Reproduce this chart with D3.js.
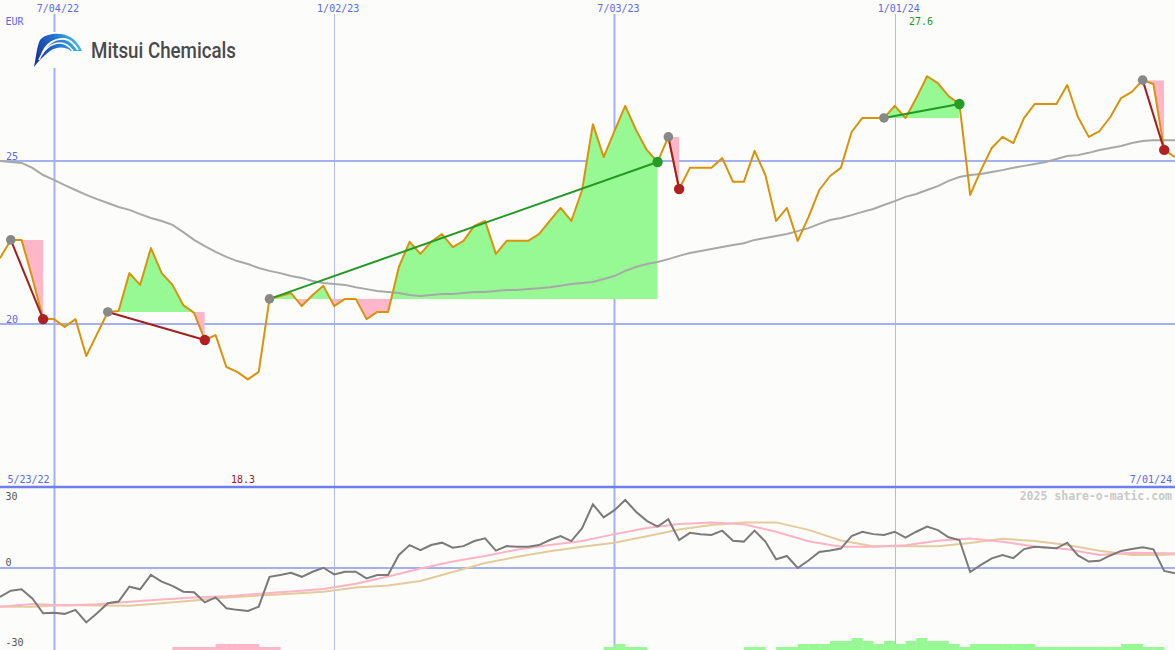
<!DOCTYPE html>
<html><head><meta charset="utf-8">
<script src="https://cdn.jsdelivr.net/npm/d3@7"></script>
<style>
html,body{margin:0;padding:0;background:#fcfdfa;}
svg{display:block;}
</style></head>
<body>
<svg id="c" width="1175" height="650"></svg>
<script>
// ---------- DATA ----------
const startWeek = "2022-05-30";           // first weekly point
const endWeek = "2024-07-01";
const gridDates = ["2022-07-04","2023-01-02","2023-07-03","2024-01-01"];
const gridMajor = [true,false,true,false];
const priceTicks = [20,25];
const oscTicks = [-30,0,30];
const currency = "EUR";
const firstLabel = "5/23/22";
const lastLabel = "7/01/24";

const price = [22.02,22.58,22.58,21.41,20.15,20.15,19.91,20.15,19.02,19.69,
20.37,20.40,21.56,21.20,22.33,21.56,21.20,20.58,20.34,19.51,
19.66,18.68,18.53,18.30,18.53,20.77,20.86,20.95,20.55,20.89,
21.17,20.55,20.77,20.77,20.15,20.37,20.37,21.75,22.52,22.15,
22.52,22.76,22.36,22.55,23.01,23.16,22.15,22.55,22.55,22.55,
22.76,23.16,23.56,23.16,24.11,26.13,25.12,25.92,26.69,25.95,
25.34,24.97,25.74,24.14,24.79,24.79,24.79,25.09,24.36,24.36,
25.31,24.57,23.16,23.56,22.55,23.28,24.11,24.54,24.79,25.89,
26.32,26.32,26.32,26.69,26.32,26.93,27.60,27.39,26.99,26.75,
23.96,24.72,25.40,25.74,25.55,26.32,26.75,26.75,26.75,27.33,
26.35,25.74,25.92,26.35,26.93,27.12,27.48,27.36,25.34,25.12];

const movingAvg = [25.00,24.97,24.94,24.79,24.57,24.42,24.26,24.11,23.96,23.83,
23.71,23.59,23.50,23.37,23.25,23.16,23.04,22.82,22.58,22.39,
22.21,22.06,21.93,21.84,21.72,21.63,21.56,21.47,21.41,21.32,
21.26,21.23,21.20,21.13,21.07,21.01,20.98,20.95,20.89,20.86,
20.89,20.92,20.92,20.95,20.98,20.98,21.01,21.04,21.04,21.07,
21.10,21.13,21.17,21.23,21.26,21.29,21.38,21.47,21.63,21.75,
21.84,21.90,21.99,22.09,22.18,22.24,22.30,22.36,22.42,22.48,
22.58,22.64,22.70,22.76,22.85,22.94,23.07,23.19,23.25,23.34,
23.44,23.53,23.65,23.77,23.90,23.99,24.11,24.23,24.39,24.51,
24.57,24.60,24.66,24.72,24.79,24.85,24.91,24.97,25.06,25.15,
25.18,25.25,25.34,25.40,25.46,25.55,25.61,25.64,25.64,25.64];

// swing signals (week indexes)
const sigStart = [1,10,25,62,82,106];
const sigEnd   = [4,19,61,63,89,108];

// oscillator panel
const osc = [-10.8,-8.5,-8.0,-11.4,-17.0,-16.8,-17.2,-15.7,-20.4,-17.0,
-13.2,-12.6,-7.0,-8.0,-2.6,-5.1,-6.7,-8.9,-9.1,-12.9,
-11.0,-15.1,-15.7,-16.1,-14.5,-3.3,-2.6,-1.8,-3.3,-1.4,
0.1,-2.4,-1.4,-1.4,-3.9,-2.6,-2.6,4.9,8.6,6.7,
8.6,9.5,7.6,8.2,10.1,11.1,6.5,8.2,8.0,8.0,
8.6,10.5,12.0,10.1,14.9,23.9,19.0,21.7,25.5,21.1,
17.7,15.5,18.3,10.5,13.2,12.7,12.4,14.0,10.2,9.9,
14.0,9.9,3.3,4.5,0.0,2.8,6.0,6.6,7.3,12.0,
13.6,12.7,12.4,13.6,11.4,13.6,15.5,14.2,11.5,10.5,
-1.5,1.2,3.6,4.9,3.7,7.1,8.0,7.7,7.4,9.5,
4.7,2.4,2.7,4.7,6.4,7.1,7.8,7.0,-1.1,-2.0];
// smoothed lines, every 3rd week (+ last week)
const pinkLine = [-14.5,-13.5,-14.1,-13.6,-12.7,-11.8,-11.1,-10.6,-9.7,-8.8,-7.9,-5.9,-3.2,-0.2,2.4,4.5,6.9,8.6,10.1,12.7,15.0,16.5,17.1,16.4,13.6,10.0,8.0,8.0,8.5,10.2,11.1,9.8,8.1,7.0,4.9,5.7,5.5,5.5];
const tanLine = [-14.5,-14.5,-13.9,-14.1,-14.2,-13.2,-12.2,-11.1,-10.3,-9.7,-8.9,-7.3,-6.6,-4.9,-1.5,1.9,4.2,6.3,8.0,9.5,11.9,14.4,16.1,17.1,17.1,14.3,10.3,8.2,8.2,8.2,9.4,11.0,10.1,8.6,6.5,4.9,5.0,5.2];
// weekly histogram levels (negative = pink)
const hist = [0,0,0,0,0,0,0,0,0,0, 0,0,0,0,0,0,-1,-1,-1,-1,
-2,-2,-2,-2,-1,-1,0,0,0,0, 0,0,0,0,0,0,0,0,0,0,
0,0,0,0,0,0,0,0,0,0, 0,0,0,0,0,0,1,2,1,1,
0,0,0,0,0,0,0,0,0,1, 1,0,1,1,2,2,2,3,3,4,
3,2,3,2,3,4,3,3,2,1, 2,2,2,2,2,2,1,1,1,1,
1,1,1,1,2,2,1,1,0,0];

// ---------- CHART ----------
const W = 1175, H = 650;
const svg = d3.select("#c");
const parse = d3.timeParse("%Y-%m-%d");
const t0 = parse(startWeek), t1 = parse(endWeek);
const dates = price.map((_, i) => d3.timeDay.offset(t0, 7 * i));
const smDates = d3.range(0, price.length, 3).concat([price.length - 1]).map(i => dates[i]);

const x = d3.scaleTime().domain([t0, t1]).range([0, W]);
const y = d3.scaleLinear().domain([15, 30]).range([487, -2]);
const yo = d3.scaleLinear().domain([-30, 30]).range([648, 488]);
const yh = d3.scaleLinear().domain([0, 4]).range([650, 638]);

const FONT = "DejaVu Sans Mono, monospace";
const BLUE_T = "#5a68ee";
const GRID = "#a3b0f2";

svg.append("rect").attr("width", W).attr("height", H).attr("fill", "#fcfdfa");
const defs = svg.append("defs");

// vertical grid
const gd = gridDates.map(parse);
svg.append("g").selectAll("line").data(gd).join("line")
  .attr("x1", d => Math.round(x(d)) + 0.5).attr("x2", d => Math.round(x(d)) + 0.5)
  .attr("y1", 14).attr("y2", H)
  .attr("stroke", (d, i) => gridMajor[i] ? GRID : "#b4bce6")
  .attr("stroke-width", (d, i) => gridMajor[i] ? 2 : 1);

// horizontal grid (price)
svg.append("g").selectAll("line").data(priceTicks).join("line")
  .attr("x1", 0).attr("x2", W).attr("y1", d => y(d)).attr("y2", d => y(d))
  .attr("stroke", GRID).attr("stroke-width", 2);
svg.append("g").selectAll("text").data(priceTicks).join("text")
  .attr("x", 6).attr("y", d => y(d) - 1.5)
  .attr("font-family", FONT).attr("font-size", 10).attr("fill", BLUE_T)
  .text(d => d);

// zero line oscillator
svg.append("line").attr("x1", 0).attr("x2", W).attr("y1", yo(0)).attr("y2", yo(0))
  .attr("stroke", GRID).attr("stroke-width", 2);

// date labels top
const fmt = d3.timeFormat("%-m/%d/%y");
svg.append("g").selectAll("text").data(gd).join("text")
  .attr("x", d => x(d) + 4).attr("y", 11.5).attr("text-anchor", "middle")
  .attr("font-family", FONT).attr("font-size", 10).attr("fill", BLUE_T)
  .text(d => fmt(d));
svg.append("text").attr("x", 5.5).attr("y", 24.5)
  .attr("font-family", FONT).attr("font-size", 10).attr("fill", BLUE_T).text(currency);

// signal fills
const pts = price.map((p, i) => ({ d: dates[i], p, i }));
const fillG = svg.append("g");
sigStart.forEach((s, k) => {
  const e = sigEnd[k];
  const base = price[s];
  const seg = pts.slice(s, e + 1);
  const xs = x(dates[s]), xe = x(dates[e]);
  defs.append("clipPath").attr("id", "ca" + k).append("rect")
    .attr("x", xs).attr("width", xe - xs).attr("y", 0).attr("height", y(base));
  defs.append("clipPath").attr("id", "cb" + k).append("rect")
    .attr("x", xs).attr("width", xe - xs).attr("y", y(base)).attr("height", H - y(base));
  const area = d3.area().x(d => x(d.d)).y0(y(base)).y1(d => y(d.p));
  fillG.append("path").datum(seg).attr("d", area).attr("fill", "#97f993").attr("clip-path", `url(#ca${k})`);
  fillG.append("path").datum(seg).attr("d", area).attr("fill", "#ffb6c8").attr("clip-path", `url(#cb${k})`);
});

// moving average
svg.append("path").datum(movingAvg.map((v, i) => [dates[i], v]))
  .attr("d", d3.line().x(d => x(d[0])).y(d => y(d[1])))
  .attr("fill", "none").attr("stroke", "#a8a8a8").attr("stroke-width", 2);

// price line
svg.append("path").datum(pts)
  .attr("d", d3.line().x(d => x(d.d)).y(d => y(d.p)))
  .attr("fill", "none").attr("stroke", "#d9930b").attr("stroke-width", 2).attr("stroke-linejoin", "round");

// signal lines and dots
sigStart.forEach((s, k) => {
  const e = sigEnd[k];
  const up = price[e] > price[s];
  svg.append("line")
    .attr("x1", x(dates[s])).attr("y1", y(price[s])).attr("x2", x(dates[e])).attr("y2", y(price[e]))
    .attr("stroke", up ? "#229922" : "#a31e1e").attr("stroke-width", 2);
  svg.append("circle").attr("cx", x(dates[s])).attr("cy", y(price[s])).attr("r", 4.8).attr("fill", "#888");
  svg.append("circle").attr("cx", x(dates[e])).attr("cy", y(price[e])).attr("r", 5.2).attr("fill", up ? "#269c26" : "#b02020");
});

// min / max labels
const iMax = d3.maxIndex(price), iMin = d3.minIndex(price);
const f1 = d3.format(".1f");
svg.append("text").attr("x", x(dates[iMax]) - 6).attr("y", 24.5).attr("text-anchor", "middle")
  .attr("font-family", FONT).attr("font-size", 10).attr("fill", "#1f961f").text(f1(price[iMax]));

// panel separator
svg.append("line").attr("x1", 0).attr("x2", W).attr("y1", 487).attr("y2", 487)
  .attr("stroke", "#6e7eec").attr("stroke-width", 2.5);
svg.append("text").attr("x", 7.5).attr("y", 482.5)
  .attr("font-family", FONT).attr("font-size", 10).attr("fill", BLUE_T).text(firstLabel);
svg.append("text").attr("x", 1172).attr("y", 482.5).attr("text-anchor", "end")
  .attr("font-family", FONT).attr("font-size", 10).attr("fill", BLUE_T).text(lastLabel);
svg.append("text").attr("x", x(dates[iMin]) - 5).attr("y", 482.5).attr("text-anchor", "middle")
  .attr("font-family", FONT).attr("font-size", 10).attr("fill", "#a01818").text(f1(price[iMin]));

// oscillator tick labels
svg.append("g").selectAll("text").data(oscTicks).join("text")
  .attr("x", 5.5).attr("y", d => d > 0 ? yo(d) + 11.5 : yo(d) - 2)
  .attr("font-family", FONT).attr("font-size", 10).attr("fill", "#555")
  .text(d => d);

// watermark
svg.append("text").attr("x", 1172).attr("y", 500).attr("text-anchor", "end")
  .attr("font-family", FONT).attr("font-size", 11.5).attr("font-weight", "bold").attr("fill", "#c9c9c9")
  .text("2025 share-o-matic.com");

// histogram
const wk = x(dates[1]) - x(dates[0]);
svg.append("g").selectAll("rect").data(hist.map((v, i) => ({ v, d: dates[i] })).filter(o => o.v !== 0)).join("rect")
  .attr("x", o => x(o.d)).attr("width", wk + 0.3)
  .attr("y", o => yh(Math.abs(o.v))).attr("height", o => yh(0) - yh(Math.abs(o.v)))
  .attr("fill", o => o.v > 0 ? "#97f993" : "#ffb6c8");

// oscillator lines
const lo = d3.line().x(d => x(d[0])).y(d => yo(d[1]));
svg.append("path").datum(tanLine.map((v, i) => [smDates[i], v])).attr("d", lo)
  .attr("fill", "none").attr("stroke", "#e3cb9c").attr("stroke-width", 2);
svg.append("path").datum(pinkLine.map((v, i) => [smDates[i], v])).attr("d", lo)
  .attr("fill", "none").attr("stroke", "#ffb3c5").attr("stroke-width", 2);
svg.append("path").datum(osc.map((v, i) => [dates[i], v])).attr("d", lo)
  .attr("fill", "none").attr("stroke", "#7a7a7a").attr("stroke-width", 2);

// logo
const logo = svg.append("g");
logo.append("rect").attr("x", 30).attr("y", 32).attr("width", 212).attr("height", 36).attr("fill", "#fcfdfa");
const grad = defs.append("linearGradient").attr("id", "lg").attr("x1", "0").attr("y1", "0.6").attr("x2", "1").attr("y2", "0.3");
grad.append("stop").attr("offset", "0").attr("stop-color", "#1636a0");
grad.append("stop").attr("offset", "0.5").attr("stop-color", "#2470cc");
grad.append("stop").attr("offset", "1").attr("stop-color", "#45c0f0");
logo.append("path")
  .attr("d", "M34,67 C36,57 37,46 40,40 C45,33 62,31 72,38 C77,42 80,46 82,51 L71,51 C64,46 56,47 50,51 C43,56 38,62 34,67 Z")
  .attr("fill", "url(#lg)");
logo.append("path").attr("d", "M42,54 C46,44 55,38 65,39 C71,40 75,45 78,50")
  .attr("fill", "none").attr("stroke", "#fcfdfa").attr("stroke-width", 1.8);
logo.append("path").attr("d", "M39,60 C43,50 51,43 60,43 C66,43 70,47 73,51")
  .attr("fill", "none").attr("stroke", "#fcfdfa").attr("stroke-width", 1.6);
logo.append("text").attr("x", 91).attr("y", 58).attr("textLength", 145).attr("lengthAdjust", "spacingAndGlyphs")
  .attr("font-family", "Roboto, sans-serif").attr("font-weight", 500).attr("font-size", 21.5).attr("fill", "#4a4a4c")
  .text("Mitsui Chemicals");
</script>
</body></html>
